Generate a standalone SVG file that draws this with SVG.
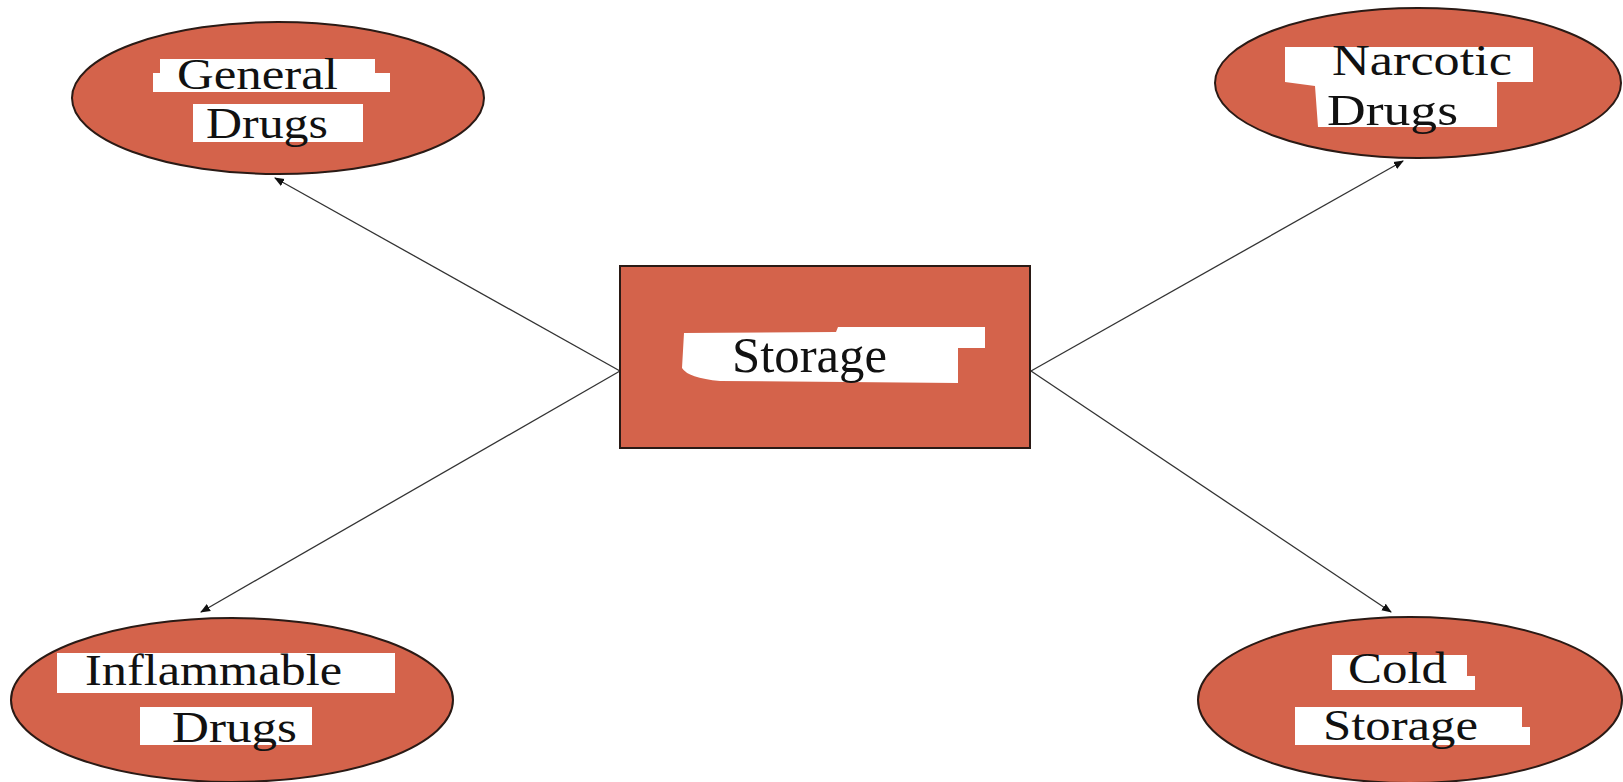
<svg xmlns="http://www.w3.org/2000/svg" width="1623" height="782" viewBox="0 0 1623 782">
<style>
.shape{fill:#D4634B;stroke:#2a1a15;stroke-width:2}
.pad{fill:#ffffff;stroke:none}
.lbl{font-family:"Liberation Serif","Times New Roman",serif;font-size:44px;fill:#111111}
.big{font-size:50px}
.conn{stroke:#333333;stroke-width:1.3;fill:none;marker-end:url(#arr)}
</style>
<defs>
<marker id="arr" viewBox="0 0 10 10" refX="9" refY="5" markerWidth="10" markerHeight="10" markerUnits="userSpaceOnUse" orient="auto">
<path d="M0,1 L10,5 L0,9 Z" fill="#111111"/>
</marker>
</defs>
<rect width="1623" height="782" fill="#ffffff"/>
<g id="connectors">
<line class="conn" x1="620" y1="371" x2="275" y2="178"/>
<line class="conn" x1="1031" y1="371" x2="1403" y2="161"/>
<line class="conn" x1="620" y1="371" x2="201" y2="612"/>
<line class="conn" x1="1031" y1="371" x2="1391" y2="612"/>
</g>
<g id="storage">
<rect class="shape" x="620" y="266" width="410" height="182"/>
<path class="pad" d="M684,333 L836,332 L838,327 L985,327 L985,348 L958,348 L958,383 L720,381 Q688,378 682,368 Z"/>
<text class="lbl big" x="732" y="372" textLength="155" lengthAdjust="spacingAndGlyphs">Storage</text>
</g>
<g id="general-drugs">
<ellipse class="shape" cx="278" cy="98" rx="206" ry="76"/>
<path class="pad" d="M160,59 L375,59 L375,73 L390,73 L390,92 L153,92 L153,73 L160,73 Z"/>
<rect class="pad" x="193" y="104" width="170" height="38"/>
<text class="lbl" x="177" y="89" textLength="161" lengthAdjust="spacingAndGlyphs">General</text>
<text class="lbl" x="206" y="138" textLength="122" lengthAdjust="spacingAndGlyphs">Drugs</text>
</g>
<g id="narcotic-drugs">
<ellipse class="shape" cx="1418" cy="83" rx="203" ry="75"/>
<path class="pad" d="M1285,47 L1533,47 L1533,82 L1497,82 L1497,127 L1318,127 L1315,86 L1285,82 Z"/>
<text class="lbl" x="1332" y="75" textLength="180" lengthAdjust="spacingAndGlyphs">Narcotic</text>
<text class="lbl" x="1327" y="125" textLength="131" lengthAdjust="spacingAndGlyphs">Drugs</text>
</g>
<g id="inflammable-drugs">
<ellipse class="shape" cx="232" cy="700" rx="221" ry="82"/>
<rect class="pad" x="57" y="653" width="338" height="40"/>
<rect class="pad" x="140" y="707" width="172" height="38"/>
<text class="lbl" x="85" y="685" textLength="257" lengthAdjust="spacingAndGlyphs">Inflammable</text>
<text class="lbl" x="172" y="742" textLength="125" lengthAdjust="spacingAndGlyphs">Drugs</text>
</g>
<g id="cold-storage">
<ellipse class="shape" cx="1410" cy="700" rx="212" ry="83"/>
<path class="pad" d="M1332,655 L1467,655 L1467,676 L1475,676 L1475,690 L1332,690 Z"/>
<path class="pad" d="M1295,707 L1522,707 L1522,727 L1530,727 L1530,745 L1295,745 Z"/>
<text class="lbl" x="1348" y="683" textLength="99" lengthAdjust="spacingAndGlyphs">Cold</text>
<text class="lbl" x="1323" y="740" textLength="155" lengthAdjust="spacingAndGlyphs">Storage</text>
</g>
</svg>
